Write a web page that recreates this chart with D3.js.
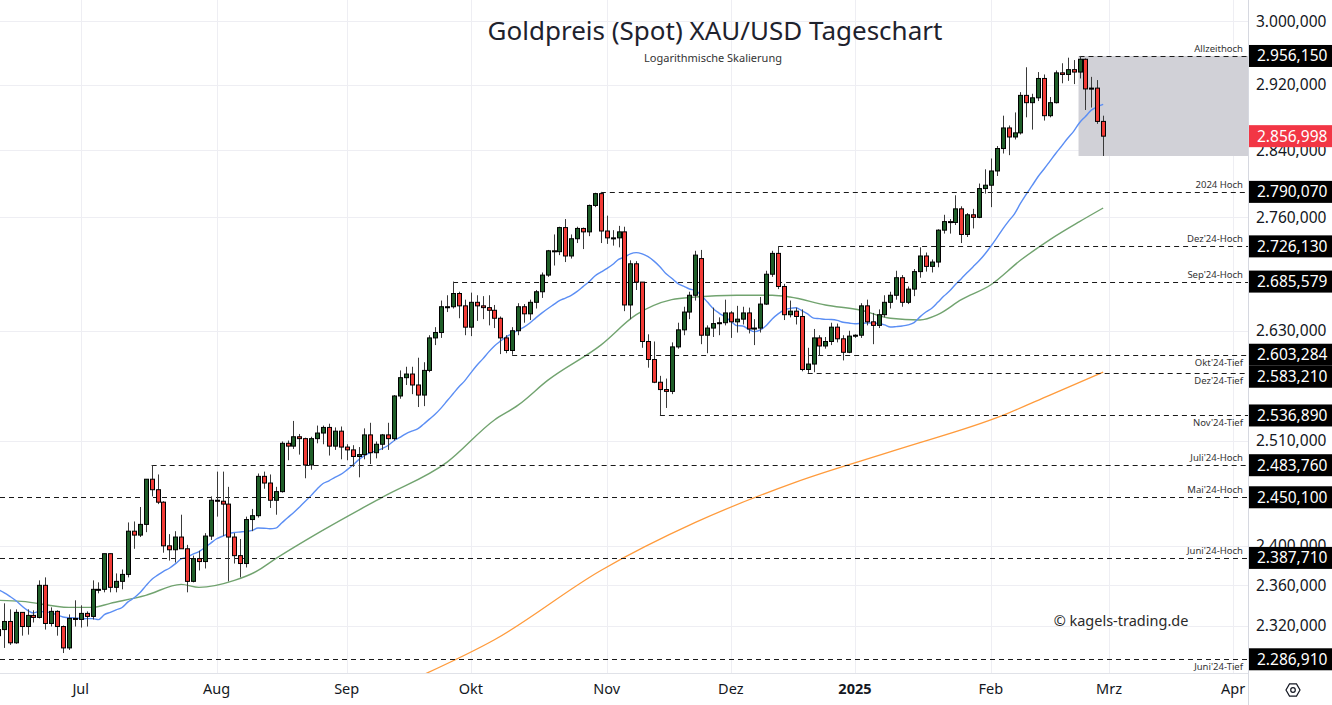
<!DOCTYPE html>
<html>
<head>
<meta charset="utf-8">
<script src="https://cdn.jsdelivr.net/npm/d3@7"></script>
<style>
  html, body { margin: 0; padding: 0; background: #fff; }
  svg { display: block; font-family: "Noto Sans", sans-serif; }
</style>
</head>
<body>
<div id="chart"></div>
<script>
// ---- data: XAU/USD daily candles ----
const dates = [
  "2024-06-11","2024-06-12","2024-06-13","2024-06-14","2024-06-17","2024-06-18","2024-06-19","2024-06-20","2024-06-21","2024-06-24","2024-06-25","2024-06-26","2024-06-27","2024-06-28",
  "2024-07-01","2024-07-02","2024-07-03","2024-07-04","2024-07-05","2024-07-08","2024-07-09","2024-07-10","2024-07-11","2024-07-12","2024-07-15","2024-07-16","2024-07-17","2024-07-18","2024-07-19","2024-07-22","2024-07-23","2024-07-24","2024-07-25","2024-07-26","2024-07-29","2024-07-30","2024-07-31",
  "2024-08-01","2024-08-02","2024-08-05","2024-08-06","2024-08-07","2024-08-08","2024-08-09","2024-08-12","2024-08-13","2024-08-14","2024-08-15","2024-08-16","2024-08-19","2024-08-20","2024-08-21","2024-08-22","2024-08-23","2024-08-26","2024-08-27","2024-08-28","2024-08-29","2024-08-30",
  "2024-09-02","2024-09-03","2024-09-04","2024-09-05","2024-09-06","2024-09-09","2024-09-10","2024-09-11","2024-09-12","2024-09-13","2024-09-16","2024-09-17","2024-09-18","2024-09-19","2024-09-20","2024-09-23","2024-09-24","2024-09-25","2024-09-26","2024-09-27","2024-09-30",
  "2024-10-01","2024-10-02","2024-10-03","2024-10-04","2024-10-07","2024-10-08","2024-10-09","2024-10-10","2024-10-11","2024-10-14","2024-10-15","2024-10-16","2024-10-17","2024-10-18","2024-10-21","2024-10-22","2024-10-23","2024-10-24","2024-10-25","2024-10-28","2024-10-29","2024-10-30","2024-10-31",
  "2024-11-01","2024-11-04","2024-11-05","2024-11-06","2024-11-07","2024-11-08","2024-11-11","2024-11-12","2024-11-13","2024-11-14","2024-11-15","2024-11-18","2024-11-19","2024-11-20","2024-11-21","2024-11-22","2024-11-25","2024-11-26","2024-11-27","2024-11-28","2024-11-29",
  "2024-12-02","2024-12-03","2024-12-04","2024-12-05","2024-12-06","2024-12-09","2024-12-10","2024-12-11","2024-12-12","2024-12-13","2024-12-16","2024-12-17","2024-12-18","2024-12-19","2024-12-20","2024-12-23","2024-12-24","2024-12-26","2024-12-27","2024-12-30","2024-12-31",
  "2025-01-01","2025-01-02","2025-01-03","2025-01-06","2025-01-07","2025-01-08","2025-01-09","2025-01-10","2025-01-13","2025-01-14","2025-01-15","2025-01-16","2025-01-17","2025-01-20","2025-01-21","2025-01-22","2025-01-23","2025-01-24","2025-01-27","2025-01-28","2025-01-29","2025-01-30","2025-01-31",
  "2025-02-03","2025-02-04","2025-02-05","2025-02-06","2025-02-07","2025-02-10","2025-02-11","2025-02-12","2025-02-13","2025-02-14","2025-02-17","2025-02-18","2025-02-19","2025-02-20","2025-02-21","2025-02-24","2025-02-25","2025-02-26","2025-02-27","2025-02-28"
];
const opens = [
  2310,2316,2324,2303,2333,2319,2330,2328,2360,2322,2334,2319,2298,2327,
  2326,2332,2329,2356,2356,2392,2358,2364,2371,2415,2411,2422,2469,2458,2445,2400,2396,2409,2397,2364,2387,2384,2410,
  2447,2446,2443,2409,2390,2382,2427,2431,2472,2465,2447,2456,2507,2504,2514,2512,2484,2512,2518,2524,2504,2520,
  2503,2500,2493,2495,2516,2497,2506,2516,2512,2558,2578,2582,2570,2559,2586,2622,2628,2657,2657,2672,2658,
  2634,2662,2658,2656,2653,2644,2622,2608,2630,2657,2649,2662,2674,2693,2721,2720,2748,2715,2735,2747,2743,2774,2788,
  2744,2736,2736,2743,2659,2706,2685,2618,2598,2573,2565,2563,2612,2631,2651,2670,2712,2625,2633,2638,2639,
  2650,2640,2643,2650,2632,2633,2660,2694,2718,2680,2648,2652,2646,2587,2593,2622,2613,2618,2634,2621,2606,
  2624,2625,2658,2640,2636,2648,2662,2670,2690,2662,2677,2697,2715,2703,2708,2745,2755,2754,2770,2740,2763,2760,2794,
  2798,2815,2842,2867,2856,2861,2907,2898,2904,2928,2882,2898,2935,2933,2939,2936,2952,2915,2916,2875
];
const highs = [
  2318,2342,2336,2336,2333,2336,2335,2365,2368,2338,2335,2320,2331,2345,
  2340,2334,2365,2363,2392,2392,2372,2376,2424,2425,2440,2469,2483.76,2474,2446,2412,2415,2432,2401,2390,2395,2413,2451,
  2477,2477,2461,2413,2407,2430,2438,2475,2477,2474,2461,2509,2510,2531,2517,2513,2514,2526,2526,2528,2524,2525,
  2506,2505,2503,2523,2529,2509,2517,2529,2559,2586,2590,2590,2600,2595,2625,2634,2664,2670,2685.58,2674,2665,
  2673,2670,2669,2670,2659,2646,2625,2634,2661,2660,2665,2676,2696,2722,2740,2749,2758,2740,2749,2748,2775,2789,2790.07,
  2762,2745,2750,2749,2710,2709,2685,2626,2618,2580,2577,2617,2639,2657,2674,2721,2722,2636,2656,2645,2665,
  2652,2658,2657,2656,2643,2668,2698,2721,2726.13,2683,2664,2656,2654,2611,2632,2625,2623,2639,2638,2625,2630,
  2626,2661,2665,2650,2654,2670,2674,2698,2693,2680,2700,2725,2719,2711,2746,2763,2758,2786,2773,2765,2770,2800,2817,
  2830,2845,2882,2870,2886,2911,2942,2909,2936,2933,2905,2938,2947,2954,2951,2956.15,2953,2930,2926,2882
];
const lows = [
  2298,2298,2301,2302,2310,2311,2323,2327,2316,2319,2310,2293,2296,2319,
  2318,2319,2326,2352,2353,2353,2353,2356,2368,2397,2409,2414,2451,2443,2393,2385,2383,2400,2353,2363,2375,2377,2406,
  2430,2410,2364,2382,2368,2378,2415,2429,2459,2439,2432,2455,2489,2501,2495,2470,2479,2507,2506,2494,2500,2490,
  2489,2482,2471,2490,2485,2491,2500,2500,2510,2555,2570,2560,2546,2547,2584,2614,2622,2651,2655,2644,2625,
  2624,2641,2643,2636,2633,2604,2605,2603.28,2625,2639,2642,2655,2667,2691,2704,2716,2708,2712,2730,2723,2738,2772,2730,
  2729,2727,2725,2652,2643,2676,2611,2589,2572,2536.89,2545,2560,2610,2625,2643,2664,2615,2605,2623,2625,2636,
  2622,2628,2637,2627,2614,2628,2659,2691,2677,2642,2645,2637,2585,2583.21,2584,2602,2610,2614,2617,2597,2605,
  2622,2622,2636,2615,2633,2645,2655,2665,2657,2660,2669,2690,2697,2696,2702,2741,2741,2751,2730,2737,2747,2759,2788,
  2772,2809,2836,2834,2853,2859,2880,2865,2900,2876,2880,2897,2922,2925,2921,2928,2889,2892,2872,2833
];
const closes = [
  2316,2324,2303,2333,2319,2330,2328,2360,2322,2334,2319,2298,2327,2326,
  2332,2329,2356,2356,2392,2358,2364,2371,2415,2411,2422,2469,2458,2445,2400,2396,2409,2397,2364,2387,2384,2410,2447,
  2446,2443,2409,2390,2382,2427,2431,2472,2465,2447,2456,2507,2504,2514,2512,2484,2512,2518,2524,2504,2520,2503,
  2500,2493,2495,2516,2497,2506,2516,2512,2558,2578,2582,2570,2559,2586,2622,2628,2657,2657,2672,2658,2634,
  2662,2658,2656,2653,2644,2622,2608,2630,2657,2649,2662,2674,2693,2721,2720,2748,2715,2735,2747,2743,2774,2788,2744,
  2736,2736,2743,2659,2706,2685,2618,2598,2573,2565,2563,2612,2631,2651,2670,2716,2625,2633,2638,2639,2650,
  2640,2643,2650,2632,2633,2660,2694,2718,2680,2648,2652,2646,2587,2593,2622,2613,2618,2634,2621,2606,2624,
  2625,2658,2640,2636,2648,2662,2670,2690,2662,2677,2697,2715,2703,2708,2745,2755,2754,2770,2740,2763,2760,2794,2798,
  2815,2842,2867,2856,2861,2907,2898,2904,2928,2882,2898,2935,2933,2939,2936,2952,2915,2916,2875,2856.998
];
// closes of the 20 sessions before the first candle (May 14 - Jun 10), for the 20-day average
const priorCloses = [2358,2386,2377,2415,2425,2421,2379,2329,2334,2351,2361,2338,2343,2327,2350,2327,2355,2376,2294,2311];

// 50- and 200-day averages
const sma50Dates = ["2024-06-11","2024-06-17","2024-06-27","2024-07-03","2024-07-08","2024-07-16","2024-07-24","2024-07-29","2024-08-06","2024-08-12","2024-08-14","2024-08-27","2024-09-10","2024-09-25","2024-10-07","2024-10-11","2024-10-18","2024-10-31","2024-11-08","2024-11-18","2024-11-22","2024-12-03","2024-12-11","2024-12-16","2024-12-24","2025-01-02","2025-01-09","2025-01-16","2025-01-21","2025-01-27","2025-02-03","2025-02-10","2025-02-17","2025-02-24","2025-02-28"];
const sma50Values = [2345,2344,2338,2338,2342,2350,2361,2358,2365,2375,2383,2416,2450,2487,2532,2548,2575,2614,2648,2665,2668,2670,2670,2668,2659,2653,2644,2642,2648,2665,2682,2710,2734,2755,2771];
const sma200Dates = ["2024-09-19","2024-10-07","2024-10-31","2024-11-22","2024-12-17","2025-01-10","2025-02-05","2025-02-17","2025-02-28"];
const sma200Values = [2272,2306,2375,2424,2466,2500,2537,2559,2584];

// horizontal levels
const levelValues = [2956.15, 2790.07, 2726.13, 2685.579, 2603.284, 2583.21, 2536.89, 2483.76, 2450.10, 2387.71, 2286.91];
const levelNames = ["Allzeithoch", "2024 Hoch", "Dez'24-Hoch", "Sep'24-Hoch", "Okt'24-Tief", "Dez'24-Tief", "Nov'24-Tief", "Juli'24-Hoch", "Mai'24-Hoch", "Juni'24-Hoch", "Juni'24-Tief"];
const levelFrom = ["2025-02-24", "2024-10-31", "2024-12-12", "2024-09-26", "2024-10-10", "2024-12-19", "2024-11-14", "2024-07-17", null, null, null];

// range from the all-time high to the last low
const boxFrom = "2025-02-24";
const boxTop = 2956.15;
const boxBottom = 2833;

// axes
const priceTicks = [2320, 2360, 2400, 2510, 2630, 2760, 2840, 2920, 3000];
const monthTickDates = ["2024-07-01","2024-08-01","2024-09-02","2024-10-01","2024-11-01","2024-12-02","2025-01-01","2025-02-03","2025-03-03","2025-04-01"];
const monthTickLabels = ["Jul","Aug","Sep","Okt","Nov","Dez","2025","Feb","Mrz","Apr"];

// ---- layout ----
const W = 1332, H = 705;
const plotW = 1248, plotH = 673;
const step = 5.91;

const svg = d3.select("#chart").append("svg").attr("width", W).attr("height", H);

// trading calendar: the candle dates plus empty weekdays up to early April
const parseDay = d3.timeParse("%Y-%m-%d"), fmtDay = d3.timeFormat("%Y-%m-%d");
const sessions = dates.slice();
let t = d3.timeDay.offset(parseDay(dates[dates.length - 1]), 1);
while (t <= parseDay("2025-04-04")) {
  if (t.getDay() !== 0 && t.getDay() !== 6) sessions.push(fmtDay(t));
  t = d3.timeDay.offset(t, 1);
}

const x = d3.scaleBand().domain(sessions).range([-4.96, -4.96 + sessions.length * step]).padding(0);
const cx = d => x(d) + x.bandwidth() / 2;
const y = d3.scaleLog().domain([2273.6, 3027.4]).range([plotH, 0]);

const de = d3.formatLocale({decimal: ",", thousands: ".", grouping: [3], currency: ["", ""]});
const fmt = de.format(",.3f");

svg.append("defs").append("clipPath").attr("id", "plotClip")
  .append("rect").attr("x", 0).attr("y", 0).attr("width", plotW).attr("height", plotH);

// grid
const grid = svg.append("g");
grid.selectAll(".hg").data(priceTicks).join("line")
  .attr("x1", 0).attr("x2", plotW)
  .attr("y1", d => Math.round(y(d)) + 0.5).attr("y2", d => Math.round(y(d)) + 0.5)
  .attr("stroke", "#eeeef3").attr("stroke-width", 1);
grid.selectAll(".vg").data(monthTickDates).join("line")
  .attr("x1", d => Math.round(cx(d)) + 0.5).attr("x2", d => Math.round(cx(d)) + 0.5)
  .attr("y1", 0).attr("y2", plotH)
  .attr("stroke", "#eeeef3").attr("stroke-width", 1);

const plot = svg.append("g").attr("clip-path", "url(#plotClip)");

// range box
plot.append("rect")
  .attr("x", cx(boxFrom) - 1)
  .attr("y", y(boxTop))
  .attr("width", plotW - cx(boxFrom) + 1)
  .attr("height", y(boxBottom) - y(boxTop))
  .attr("fill", "#d1d1d7");

// moving averages: the 20-day one from the closes, the others as read
const idx = d3.range(dates.length);
const allCloses = priorCloses.concat(closes);
const sma20 = idx.map(i => d3.mean(allCloses.slice(i + priorCloses.length - 19, i + priorCloses.length + 1)));

const maLine = (ds, vs) => d3.line().x((d, i) => cx(ds[i])).y(d => y(d)).curve(d3.curveMonotoneX)(vs);

plot.append("path").attr("d", maLine(sma200Dates, sma200Values))
  .attr("fill", "none").attr("stroke", "#ff9b3c").attr("stroke-width", 1.3);
plot.append("path").attr("d", maLine(sma50Dates, sma50Values))
  .attr("fill", "none").attr("stroke", "#62995f").attr("stroke-width", 1.4).attr("opacity", 0.9);
plot.append("path").attr("d", maLine(dates, sma20))
  .attr("fill", "none").attr("stroke", "#5b8ef4").attr("stroke-width", 1.4);

// level lines
levelValues.forEach((v, i) => {
  const yy = Math.round(y(v)) + 0.5;
  plot.append("line")
    .attr("x1", levelFrom[i] ? cx(levelFrom[i]) : 0).attr("x2", plotW)
    .attr("y1", yy).attr("y2", yy)
    .attr("stroke", "#1a1a1a").attr("stroke-width", 1).attr("stroke-dasharray", "5,4");
});

// candles
const candles = plot.append("g");
idx.forEach(i => {
  const xc = Math.round(cx(dates[i])) + 0.5;
  const up = closes[i] >= opens[i];
  candles.append("line")
    .attr("x1", xc).attr("x2", xc)
    .attr("y1", y(highs[i])).attr("y2", y(lows[i]))
    .attr("stroke", "#3a3a3a").attr("stroke-width", 1);
  const top = y(Math.max(opens[i], closes[i]));
  const bot = y(Math.min(opens[i], closes[i]));
  candles.append("rect")
    .attr("x", xc - 2).attr("width", 4)
    .attr("y", top).attr("height", Math.max(1, bot - top))
    .attr("fill", up ? "#1f5e29" : "#f23b36")
    .attr("stroke", "#000").attr("stroke-width", 1);
});

// level captions
const below = new Set(["Okt'24-Tief", "Dez'24-Tief", "Nov'24-Tief", "Juni'24-Tief"]);
svg.append("g").selectAll("text").data(levelNames).join("text")
  .attr("x", plotW - 5)
  .attr("y", (d, i) => y(levelValues[i]) + (below.has(d) ? 11 : -4))
  .attr("text-anchor", "end")
  .attr("font-size", 9.5)
  .attr("fill", "#333")
  .text(d => d);

// borders
svg.append("line").attr("x1", plotW + 0.5).attr("x2", plotW + 0.5).attr("y1", 0).attr("y2", H)
  .attr("stroke", "#d6d8e0");
svg.append("line").attr("x1", 0).attr("x2", plotW).attr("y1", plotH + 0.5).attr("y2", plotH + 0.5)
  .attr("stroke", "#e0e2e8");

// price axis
const yAxis = svg.append("g").attr("transform", `translate(${plotW},0)`)
  .call(d3.axisRight(y).tickValues(priceTicks).tickFormat(fmt).tickSize(0).tickPadding(8));
yAxis.select(".domain").remove();
yAxis.selectAll("text").attr("font-size", 15.5).attr("fill", "#131722").attr("font-family", "Noto Sans");

// time axis
const xAxis = svg.append("g").attr("transform", `translate(0,${plotH})`)
  .call(d3.axisBottom(x).tickValues(monthTickDates).tickFormat((d, i) => monthTickLabels[i]).tickSize(0).tickPadding(11));
xAxis.select(".domain").remove();
xAxis.selectAll("text").attr("font-size", 14.5).attr("fill", "#131722").attr("font-family", "Noto Sans")
  .attr("font-weight", (d, i) => monthTickLabels[i] === "2025" ? "bold" : "normal");

// price labels on the axis (they sit over the tick labels, as in the original)
const tags = levelValues.map(v => ({v, yy: y(v), color: "#000"}));
tags.push({v: closes[closes.length - 1], yy: y(closes[closes.length - 1]), color: "#f23645"});
tags.sort((a, b) => a.yy - b.yy);
for (let k = 1; k < tags.length; k++) {
  if (tags[k].yy - tags[k - 1].yy < 22) tags[k].yy = tags[k - 1].yy + 22;
}
const tg = svg.append("g").selectAll("g").data(tags).join("g")
  .attr("transform", d => `translate(${plotW + 1},${d.yy})`);
tg.append("rect").attr("x", 0).attr("y", -11).attr("width", W - plotW - 1).attr("height", 22)
  .attr("fill", d => d.color);
tg.append("text").attr("x", 8).attr("dy", "0.35em").attr("font-size", 15.5).attr("fill", "#fff")
  .text(d => fmt(d.v));

// title, subtitle, watermark
svg.append("text").attr("x", 715).attr("y", 40).attr("text-anchor", "middle")
  .attr("font-size", 26).attr("fill", "#1e222d").text("Goldpreis (Spot) XAU/USD Tageschart");
svg.append("text").attr("x", 713).attr("y", 62).attr("text-anchor", "middle")
  .attr("font-size", 11).attr("fill", "#333").text("Logarithmische Skalierung");
svg.append("text").attr("x", 1121).attr("y", 626).attr("text-anchor", "middle")
  .attr("font-size", 14.5).attr("fill", "#2a2a2a").text("\u00a9 kagels-trading.de");

// settings icon
const hex = d3.range(6).map(k => {
  const a = Math.PI / 3 * k;
  return [1293 + 7 * Math.cos(a), 690 + 7 * Math.sin(a)];
});
svg.append("path").attr("d", d3.line()(hex) + "Z")
  .attr("fill", "none").attr("stroke", "#131722").attr("stroke-width", 1.2);
svg.append("circle").attr("cx", 1293).attr("cy", 690).attr("r", 2.3)
  .attr("fill", "none").attr("stroke", "#131722").attr("stroke-width", 1.2);
</script>
</body>
</html>
